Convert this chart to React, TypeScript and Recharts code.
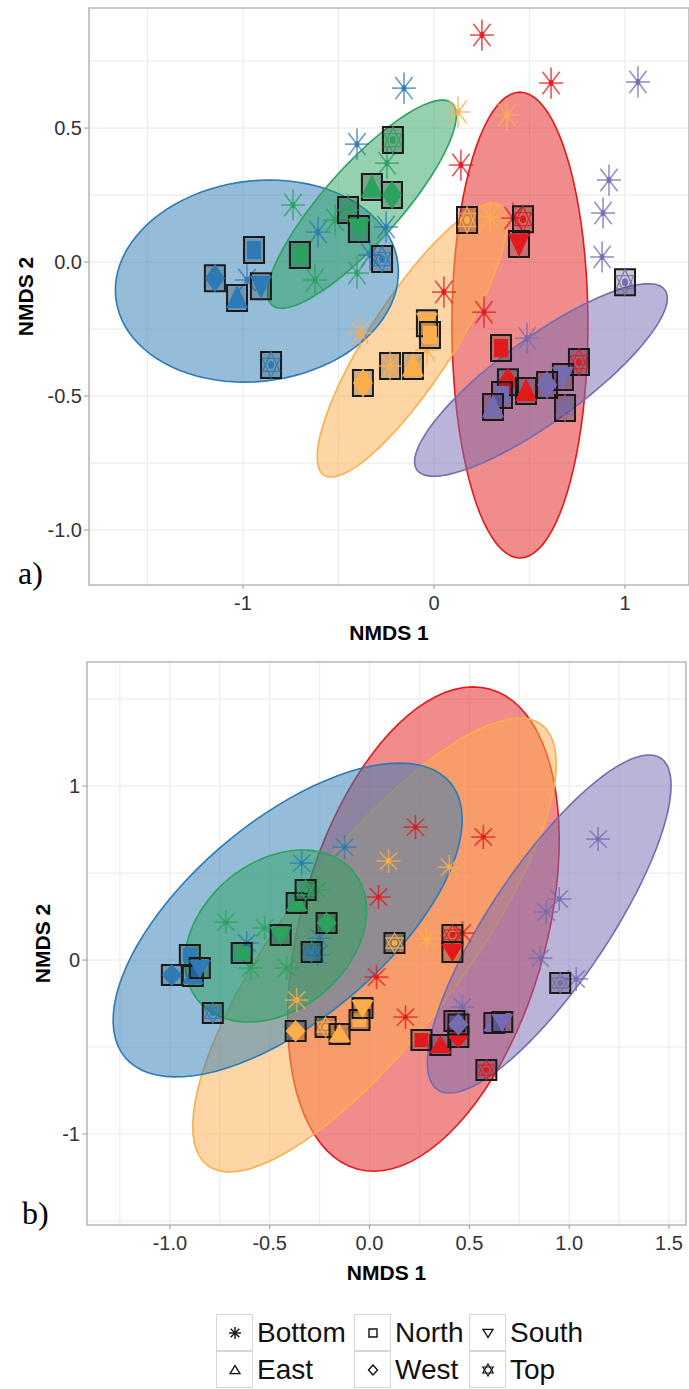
import React from 'react';
import { ScatterChart, Scatter, XAxis, YAxis, CartesianGrid, ReferenceArea, Label } from 'recharts';

type Pt = { x: number; y: number; s: string; f?: boolean };
type Ell = { g: string; c: number[]; u: number[]; v: number[] };

const COLORS: Record<string, string> = {
  blue: '#2c7bb6',
  green: '#2ca25f',
  orange: '#fdae4b',
  red: '#e31a1c',
  purple: '#756bb1',
};

// B = Bottom, N = North, S = South, E = East, W = West, T = Top
// ---------- panel a ----------
const aBlue: Pt[] = [
  { x: -0.157, y: 0.649, s: 'B' }, { x: -0.403, y: 0.44, s: 'B' }, { x: -0.607, y: 0.112, s: 'B' },
  { x: -0.251, y: 0.131, s: 'B' }, { x: -0.335, y: 0.026, s: 'B' }, { x: -0.979, y: -0.067, s: 'B' },
  { x: -0.942, y: 0.045, s: 'N' }, { x: -1.147, y: -0.06, s: 'W' }, { x: -1.031, y: -0.134, s: 'E' },
  { x: -0.906, y: -0.09, s: 'S' }, { x: -0.272, y: 0.011, s: 'T' }, { x: -0.853, y: -0.384, s: 'T' },
];
const aGreen: Pt[] = [
  { x: -0.738, y: 0.213, s: 'B' }, { x: -0.623, y: -0.067, s: 'B' }, { x: -0.518, y: 0.157, s: 'B' },
  { x: -0.403, y: -0.041, s: 'B' }, { x: -0.246, y: 0.369, s: 'B' }, { x: -0.45, y: 0.194, s: 'B', f: true },
  { x: -0.702, y: 0.026, s: 'N' }, { x: -0.325, y: 0.28, s: 'E' }, { x: -0.22, y: 0.25, s: 'W' },
  { x: -0.393, y: 0.123, s: 'S' }, { x: -0.215, y: 0.455, s: 'T' },
];
const aOrange: Pt[] = [
  { x: 0.126, y: 0.56, s: 'B' }, { x: 0.382, y: 0.549, s: 'B' }, { x: 0.293, y: 0.168, s: 'B' },
  { x: -0.387, y: -0.265, s: 'B' }, { x: -0.037, y: -0.328, s: 'B' }, { x: -0.23, y: -0.388, s: 'B', f: true },
  { x: 0.173, y: 0.157, s: 'T' }, { x: -0.037, y: -0.228, s: 'S' }, { x: -0.021, y: -0.272, s: 'N' },
  { x: -0.372, y: -0.451, s: 'W' }, { x: -0.11, y: -0.388, s: 'E' },
];
const aRed: Pt[] = [
  { x: 0.251, y: 0.847, s: 'B' }, { x: 0.613, y: 0.668, s: 'B' }, { x: 0.141, y: 0.362, s: 'B' },
  { x: 0.052, y: -0.112, s: 'B' }, { x: 0.262, y: -0.187, s: 'B' }, { x: 0.414, y: 0.164, s: 'B' },
  { x: 0.466, y: 0.16, s: 'T' }, { x: 0.445, y: 0.067, s: 'S' }, { x: 0.351, y: -0.321, s: 'N' },
  { x: 0.387, y: -0.448, s: 'W' }, { x: 0.482, y: -0.481, s: 'E' }, { x: 0.759, y: -0.373, s: 'T' },
];
const aPurple: Pt[] = [
  { x: 1.068, y: 0.672, s: 'B' }, { x: 0.916, y: 0.306, s: 'B' }, { x: 0.885, y: 0.183, s: 'B' },
  { x: 0.88, y: 0.019, s: 'B' }, { x: 0.487, y: -0.284, s: 'B' }, { x: 1.0, y: -0.075, s: 'T' },
  { x: 0.675, y: -0.429, s: 'S' }, { x: 0.592, y: -0.459, s: 'W' }, { x: 0.356, y: -0.496, s: 'N' },
  { x: 0.309, y: -0.541, s: 'E' }, { x: 0.686, y: -0.545, s: 'T' },
];
// drawing order: red, orange, blue, green, purple
const aEllipses: Ell[] = [
  { g: 'red', c: [0.45, -0.235], u: [0, 0.869], v: [0.356, 0] },
  { g: 'orange', c: [-0.115, -0.291], u: [0.461, 0.504], v: [0.184, -0.086] },
  { g: 'blue', c: [-0.927, -0.071], u: [0.738, 0.067], v: [0.066, -0.371] },
  { g: 'green', c: [-0.377, 0.216], u: [0.471, 0.377], v: [0.149, -0.094] },
  { g: 'purple', c: [0.56, -0.44], u: [0.649, 0.336], v: [0.129, -0.127] },
];

// ---------- panel b ----------
const bBlue: Pt[] = [
  { x: -0.125, y: 0.649, s: 'B' }, { x: -0.34, y: 0.557, s: 'B' }, { x: -0.615, y: 0.098, s: 'B' },
  { x: -0.25, y: 0.126, s: 'B' }, { x: -0.26, y: 0.029, s: 'B' },
  { x: -0.9, y: 0.029, s: 'N' }, { x: -0.885, y: -0.092, s: 'E' }, { x: -0.85, y: -0.046, s: 'S' },
  { x: -0.99, y: -0.086, s: 'W' }, { x: -0.785, y: -0.305, s: 'T' }, { x: -0.29, y: 0.046, s: 'T' },
];
const bGreen: Pt[] = [
  { x: -0.72, y: 0.218, s: 'B' }, { x: -0.525, y: 0.184, s: 'B' }, { x: -0.595, y: -0.046, s: 'B' },
  { x: -0.415, y: -0.046, s: 'B' }, { x: -0.26, y: 0.402, s: 'B' },
  { x: -0.64, y: 0.04, s: 'N' }, { x: -0.365, y: 0.328, s: 'E' }, { x: -0.32, y: 0.402, s: 'T' },
  { x: -0.445, y: 0.144, s: 'S' }, { x: -0.215, y: 0.213, s: 'W' },
];
const bOrange: Pt[] = [
  { x: 0.095, y: 0.569, s: 'B' }, { x: 0.4, y: 0.534, s: 'B' }, { x: -0.365, y: -0.23, s: 'B' },
  { x: 0.285, y: 0.121, s: 'B' }, { x: 0.125, y: 0.098, s: 'T' },
  { x: -0.37, y: -0.408, s: 'W' }, { x: -0.22, y: -0.385, s: 'T' }, { x: -0.15, y: -0.425, s: 'E' },
  { x: -0.05, y: -0.345, s: 'N' }, { x: -0.035, y: -0.276, s: 'S' },
];
const bRed: Pt[] = [
  { x: 0.23, y: 0.764, s: 'B' }, { x: 0.57, y: 0.707, s: 'B' }, { x: 0.045, y: 0.362, s: 'B' },
  { x: 0.035, y: -0.098, s: 'B' }, { x: 0.18, y: -0.328, s: 'B' }, { x: 0.465, y: 0.155, s: 'B' },
  { x: 0.415, y: 0.144, s: 'T' }, { x: 0.415, y: 0.046, s: 'S' }, { x: 0.26, y: -0.46, s: 'N' },
  { x: 0.355, y: -0.489, s: 'E' }, { x: 0.445, y: -0.443, s: 'W' }, { x: 0.585, y: -0.632, s: 'T' },
];
const bPurple: Pt[] = [
  { x: 1.145, y: 0.695, s: 'B' }, { x: 0.95, y: 0.351, s: 'B' }, { x: 0.885, y: 0.276, s: 'B' },
  { x: 0.855, y: 0.011, s: 'B' }, { x: 1.035, y: -0.109, s: 'B' }, { x: 0.465, y: -0.27, s: 'B' },
  { x: 0.955, y: -0.132, s: 'T' }, { x: 0.425, y: -0.351, s: 'N' }, { x: 0.445, y: -0.37, s: 'W' },
  { x: 0.625, y: -0.362, s: 'E' }, { x: 0.665, y: -0.356, s: 'S' },
];
const bEllipses: Ell[] = [
  { g: 'red', c: [0.27, 0.178], u: [0.333, 1.379], v: [0.593, -0.189] },
  { g: 'orange', c: [0.025, 0.086], u: [0.837, 1.266], v: [0.358, -0.313] },
  { g: 'blue', c: [-0.41, 0.23], u: [0.814, 0.79], v: [0.319, -0.435] },
  { g: 'green', c: [-0.47, 0.138], u: [0.389, 0.37], v: [0.236, -0.328] },
  { g: 'purple', c: [0.9, 0.207], u: [0.559, 0.953], v: [0.245, -0.19] },
];

const aXTicks = [-1, 0, 1];
const aYTicks = [-1, -0.5, 0, 0.5];
const bXTicks = [-1, -0.5, 0, 0.5, 1, 1.5];
const bYTicks = [-1, 0, 1];

const legendItems = [
  ['Bottom', 'B'], ['North', 'N'], ['South', 'S'],
  ['East', 'E'], ['West', 'W'], ['Top', 'T'],
];

// outline of an ellipse in data units (centre + conjugate semi-axes)
const ellipseOutline = (e: Ell) => {
  const out: { x: number; y: number }[] = [];
  for (let i = 0; i <= 90; i++) {
    const t = (i / 90) * Math.PI * 2;
    out.push({
      x: e.c[0] + e.u[0] * Math.cos(t) + e.v[0] * Math.sin(t),
      y: e.c[1] + e.u[1] * Math.cos(t) + e.v[1] * Math.sin(t),
    });
  }
  return out;
};

const triPts = (r: number, up: boolean) =>
  [0, 1, 2]
    .map((i) => {
      const a = ((up ? -90 : 90) + i * 120) * (Math.PI / 180);
      return `${(r * Math.cos(a)).toFixed(2)},${(r * Math.sin(a)).toFixed(2)}`;
    })
    .join(' ');

const Glyph = ({ s, color, filled }: { s: string; color: string; filled: boolean }) => {
  const nss = 'non-scaling-stroke' as const;
  if (s === 'B') {
    const r = filled ? 12 : 6;
    return (
      <g stroke={color} strokeWidth={filled ? 1.6 : 1.4} strokeOpacity={filled ? 0.75 : 1}>
        <line x1={-r} y1={0} x2={r} y2={0} vectorEffect={nss} />
        <line x1={0} y1={-r} x2={0} y2={r} vectorEffect={nss} />
        <line x1={-r * 0.72} y1={-r * 0.72} x2={r * 0.72} y2={r * 0.72} vectorEffect={nss} />
        <line x1={-r * 0.72} y1={r * 0.72} x2={r * 0.72} y2={-r * 0.72} vectorEffect={nss} />
        {filled && <circle r={2.5} fill={color} fillOpacity={0.8} stroke="none" />}
      </g>
    );
  }
  const fill = filled ? color : 'none';
  const sw = filled ? 0 : 1.4;
  if (s === 'N') {
    const h = filled ? 7 : 4;
    return <rect x={-h} y={-h} width={2 * h} height={2 * h} fill={fill} stroke={color} strokeWidth={sw} vectorEffect={nss} />;
  }
  if (s === 'E') {
    const k = filled ? 1 : 0.45;
    return <polygon points={`0,${-10 * k} ${-11 * k},${8 * k} ${11 * k},${8 * k}`} fill={fill} stroke={color} strokeWidth={sw} vectorEffect={nss} />;
  }
  if (s === 'S') {
    const k = filled ? 1 : 0.45;
    return <polygon points={`0,${10 * k} ${-11 * k},${-8 * k} ${11 * k},${-8 * k}`} fill={fill} stroke={color} strokeWidth={sw} vectorEffect={nss} />;
  }
  if (s === 'W') {
    const k = filled ? 1 : 0.45;
    return <polygon points={`0,${-11 * k} ${10 * k},0 0,${11 * k} ${-10 * k},0`} fill={fill} stroke={color} strokeWidth={sw} vectorEffect={nss} />;
  }
  // Top: star of David
  const r = filled ? 10 : 6;
  return (
    <g fill="none" stroke={color} strokeWidth={filled ? 1.3 : 1.2} strokeOpacity={filled ? 0.85 : 1}>
      <polygon points={triPts(r, true)} vectorEffect={nss} />
      <polygon points={triPts(r, false)} vectorEffect={nss} />
      {filled && <circle r={3} fill={color} stroke="none" />}
    </g>
  );
};

const markShape = (color: string, k: number) => (props: any) => {
  const { cx, cy, payload } = props;
  if (cx == null || cy == null) return <g />;
  const framed = payload.s !== 'B' || payload.f;
  return (
    <g transform={`translate(${cx},${cy}) scale(1,${k})`}>
      {framed && (
        <rect x={-10} y={-10} width={20} height={20} fill="#000" fillOpacity={0.2} stroke="#1a1a1a" strokeWidth={2} vectorEffect="non-scaling-stroke" />
      )}
      <Glyph s={payload.s} color={color} filled />
    </g>
  );
};

const noMark = () => <g />;

const yTitle = (xc: number) => (props: any) => {
  const vb = props.viewBox;
  const yc = vb.y + vb.height / 2;
  return (
    <text x={xc} y={yc} transform={`rotate(-90, ${xc}, ${yc})`} textAnchor="middle" dominantBaseline="central"
      fontSize={21} fontWeight="bold" fill="#000" fontFamily="Liberation Sans, Arial, sans-serif">
      NMDS 2
    </text>
  );
};

const tickStyle = { fontSize: 20, fill: '#333', fontFamily: 'Liberation Sans, Arial, sans-serif' };

const Panel = ({
  top, height, margin, yWidth, xDomain, yDomain, xTicks, yTicks, xGrid, yGrid, ellipses, series, k, fmtX, fmtY, yTitleX,
}: any) => (
  <div style={{ position: 'absolute', left: 0, top, width: 689, height }}>
    <ScatterChart width={689} height={height} margin={margin}>
      <CartesianGrid stroke="#ececec" strokeWidth={1.2} verticalValues={xGrid} horizontalValues={yGrid} />
      <XAxis type="number" dataKey="x" domain={xDomain} ticks={xTicks} allowDataOverflow height={70}
        axisLine={false} tickSize={4} tickMargin={7} tickLine={{ stroke: '#999' }} tick={tickStyle} tickFormatter={fmtX}>
        <Label value="NMDS 1" position="insideBottom" offset={15} fontSize={21} fontWeight="bold" fill="#000"
          fontFamily="Liberation Sans, Arial, sans-serif" />
      </XAxis>
      <YAxis type="number" dataKey="y" domain={yDomain} ticks={yTicks} allowDataOverflow width={yWidth}
        axisLine={false} tickSize={5} tickMargin={2} tickLine={{ stroke: '#999' }} tick={tickStyle} tickFormatter={fmtY}>
        <Label content={yTitle(yTitleX)} />
      </YAxis>
      <ReferenceArea x1={xDomain[0]} x2={xDomain[1]} y1={yDomain[0]} y2={yDomain[1]} fill="none" stroke="#b8b8b8" strokeWidth={1.6} ifOverflow="visible" />
      {ellipses.map((e: Ell, i: number) => (
        <Scatter key={'e' + i} data={ellipseOutline(e)} shape={noMark} lineType="joint" isAnimationActive={false}
          line={{ stroke: COLORS[e.g], strokeWidth: 1.6, fill: COLORS[e.g], fillOpacity: 0.5 }} />
      ))}
      {series.map(([g, pts]: [string, Pt[]]) => (
        <Scatter key={'p' + g} data={pts} shape={markShape(COLORS[g], k)} isAnimationActive={false} />
      ))}
    </ScatterChart>
  </div>
);

const LegendBox = () => {
  const cols = [216, 354, 469];
  const rows = [1314, 1351];
  return (
    <>
      {legendItems.map(([label, s], i) => {
        const left = cols[i % 3];
        const top = rows[Math.floor(i / 3)];
        return (
          <div key={label} style={{ position: 'absolute', left, top, height: 37, display: 'flex', alignItems: 'center' }}>
            <div style={{ width: 35, height: 35, border: '1.5px solid #d6d6d6', display: 'flex', alignItems: 'center', justifyContent: 'center' }}>
              <svg width={20} height={20} viewBox="-10 -10 20 20">
                <Glyph s={s} color="#111" filled={false} />
              </svg>
            </div>
            <span style={{ marginLeft: 4, fontSize: 28, fontFamily: 'Liberation Sans, Arial, sans-serif', color: '#111', lineHeight: '37px' }}>
              {label}
            </span>
          </div>
        );
      })}
    </>
  );
};

export default function App() {
  const f1 = (v: number) => v.toFixed(1);
  const f0 = (v: number) => String(v);
  return (
    <div style={{ position: 'absolute', left: 0, top: 0, width: 689, height: 1389, background: '#fff', overflow: 'hidden' }}>
      <Panel
        top={0} height={655} margin={{ top: 8, right: 0, left: 0, bottom: 0 }} yWidth={89}
        xDomain={[-1.806, 1.335]} yDomain={[-1.205, 0.948]} xTicks={aXTicks} yTicks={aYTicks}
        xGrid={[-1.5, -1, -0.5, 0, 0.5, 1]} yGrid={[-1, -0.75, -0.5, -0.25, 0, 0.25, 0.5, 0.75]}
        ellipses={aEllipses}
        series={[['blue', aBlue], ['green', aGreen], ['orange', aOrange], ['red', aRed], ['purple', aPurple]]}
        k={1.3} fmtX={f0} fmtY={f1} yTitleX={25}
      />
      <Panel
        top={640} height={655} margin={{ top: 22, right: 3, left: 0, bottom: 0 }} yWidth={87}
        xDomain={[-1.415, 1.585]} yDomain={[-1.523, 1.713]} xTicks={bXTicks} yTicks={bYTicks}
        xGrid={[-1.25, -1, -0.75, -0.5, -0.25, 0, 0.25, 0.5, 0.75, 1, 1.25, 1.5]} yGrid={[-1.5, -1, -0.5, 0, 0.5, 1, 1.5]}
        ellipses={bEllipses}
        series={[['blue', bBlue], ['green', bGreen], ['orange', bOrange], ['red', bRed], ['purple', bPurple]]}
        k={1} fmtX={f1} fmtY={f0} yTitleX={42}
      />
      <div style={{ position: 'absolute', left: 18, top: 557, fontSize: 32, lineHeight: '32px', fontFamily: 'Liberation Serif, Times New Roman, serif' }}>a)</div>
      <div style={{ position: 'absolute', left: 22, top: 1197, fontSize: 32, lineHeight: '32px', fontFamily: 'Liberation Serif, Times New Roman, serif' }}>b)</div>
      <LegendBox />
    </div>
  );
}
